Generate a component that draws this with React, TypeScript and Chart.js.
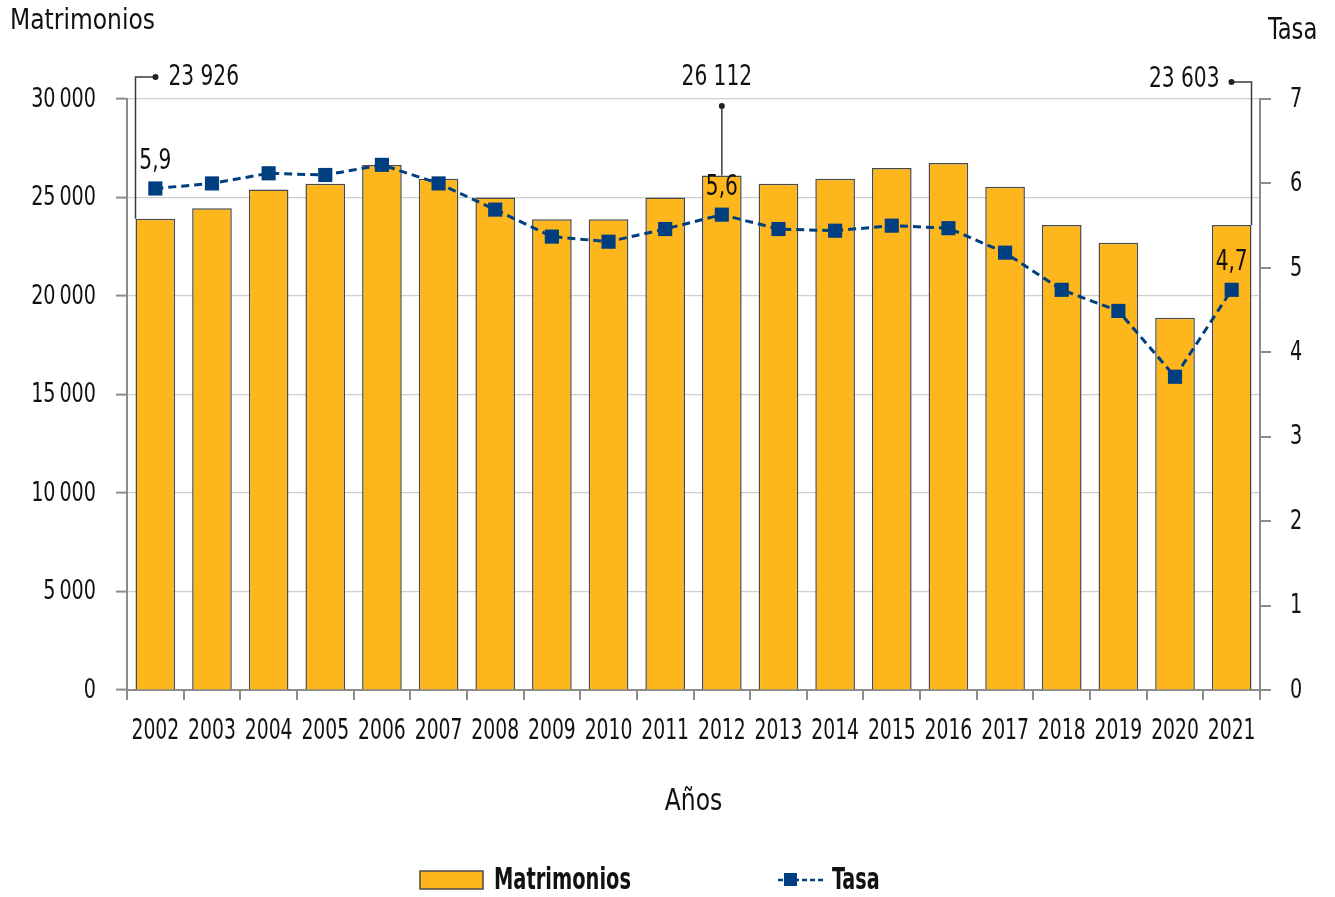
import React, { useEffect, useRef } from 'react';
import { Chart, registerables } from 'chart.js';

Chart.register(...registerables);

const years = ['2002', '2003', '2004', '2005', '2006', '2007', '2008', '2009', '2010', '2011', '2012', '2013', '2014', '2015', '2016', '2017', '2018', '2019', '2020', '2021'];
const matrimonios = [23926, 24450, 25400, 25700, 26650, 25950, 25000, 23900, 23900, 25000, 26112, 25700, 25950, 26500, 26750, 25550, 23600, 22700, 18900, 23603];
const tasa = [5.94, 6.0, 6.12, 6.1, 6.22, 6.0, 5.69, 5.37, 5.31, 5.46, 5.63, 5.46, 5.44, 5.5, 5.47, 5.18, 4.74, 4.49, 3.71, 4.74];
const calloutYears = ['2002', '2012', '2021'];
const rateLabelYears = ['2002', '2012', '2021'];
const leftAxis = { min: 0, max: 30000, step: 5000 };
const rightAxis = { min: 0, max: 7, step: 1 };

const FONT = "'DejaVu Sans Condensed', 'DejaVu Sans', sans-serif";
const BAR_COLOR = '#FDB71C';
const BAR_BORDER = '#4a4a4a';
const LINE_COLOR = '#003F7F';
const AXIS_COLOR = '#8c8c8c';
const GRID_COLOR = '#cfcfcf';
const TEXT = '#111111';

const fmtTick = (v: number) => String(Math.round(v)).replace(/\B(?=(\d{3})+(?!\d))/g, '\u2009');
const fmtCallout = (v: number) => String(Math.round(v)).replace(/\B(?=(\d{3})+(?!\d))/g, ' ');
const fmtRate = (v: number) => v.toFixed(1).replace('.', ',');

function drawText(
  ctx: CanvasRenderingContext2D,
  text: string,
  x: number,
  y: number,
  align: CanvasTextAlign,
  size: number,
  sx: number,
  bold = false
) {
  ctx.save();
  ctx.translate(x, y);
  ctx.scale(sx, 1);
  ctx.font = `${bold ? 'bold ' : ''}${size}px ${FONT}`;
  ctx.textAlign = align;
  ctx.textBaseline = 'middle';
  ctx.fillStyle = TEXT;
  ctx.fillText(text, 0, 0);
  ctx.restore();
}

const decorPlugin = {
  id: 'decor',
  afterDraw(chart: any) {
    const ctx = chart.ctx as CanvasRenderingContext2D;
    const area = chart.chartArea;
    const barMeta = chart.getDatasetMeta(0);
    const lineMeta = chart.getDatasetMeta(1);
    const xs = chart.scales.x;
    const yl = chart.scales.y;
    const yr = chart.scales.y1;
    ctx.save();

    // tick labels (condensed)
    xs.ticks.forEach((t: any, i: number) => {
      drawText(ctx, String(chart.data.labels[i]), xs.getPixelForTick(i), 731, 'center', 29, 0.72);
    });
    yl.ticks.forEach((t: any) => {
      drawText(ctx, fmtTick(t.value), 96, yl.getPixelForValue(t.value) + 1, 'right', 26, 0.82);
    });
    yr.ticks.forEach((t: any) => {
      drawText(ctx, String(t.value), 1290, yr.getPixelForValue(t.value) + 1, 'left', 26, 0.82);
    });

    // callouts for bar values
    ctx.strokeStyle = '#3a3a3a';
    ctx.fillStyle = '#222';
    ctx.lineWidth = 1.5;
    calloutYears.forEach((yrLabel, k) => {
      const i = years.indexOf(yrLabel);
      const bar = barMeta.data[i];
      const { x, y, width } = bar.getProps(['x', 'y', 'width'], true);
      const label = fmtCallout(matrimonios[i]);
      if (k === 0) {
        const lx = x - width / 2;
        const ty = area.top - 22;
        ctx.beginPath();
        ctx.moveTo(lx, y);
        ctx.lineTo(lx, ty);
        ctx.lineTo(lx + 20, ty);
        ctx.stroke();
        ctx.beginPath();
        ctx.arc(lx + 20, ty, 3, 0, Math.PI * 2);
        ctx.fill();
        drawText(ctx, label, lx + 33, area.top - 21, 'left', 28, 0.8);
      } else if (k === calloutYears.length - 1) {
        const lx = x + width / 2;
        const ty = area.top - 17;
        ctx.beginPath();
        ctx.moveTo(lx, y);
        ctx.lineTo(lx, ty);
        ctx.lineTo(lx - 20, ty);
        ctx.stroke();
        ctx.beginPath();
        ctx.arc(lx - 20, ty, 3, 0, Math.PI * 2);
        ctx.fill();
        drawText(ctx, label, lx - 32, area.top - 19, 'right', 28, 0.8);
      } else {
        const ty = area.top + 7;
        ctx.beginPath();
        ctx.moveTo(x, y);
        ctx.lineTo(x, ty);
        ctx.stroke();
        ctx.beginPath();
        ctx.arc(x, ty, 3, 0, Math.PI * 2);
        ctx.fill();
        drawText(ctx, label, x - 5, area.top - 21, 'center', 28, 0.8);
      }
    });

    // rate labels
    rateLabelYears.forEach((yrLabel) => {
      const i = years.indexOf(yrLabel);
      const pt = lineMeta.data[i];
      const { x, y } = pt.getProps(['x', 'y'], true);
      drawText(ctx, fmtRate(tasa[i]), x, y - 27, 'center', 28, 0.8);
    });

    // axis titles
    drawText(ctx, 'Matrimonios', 10, 22, 'left', 28, 0.93);
    drawText(ctx, 'Tasa', 1268, 31, 'left', 30, 0.84);
    drawText(ctx, 'Años', (area.left + area.right) / 2, 802, 'center', 30, 0.87);

    // legend
    const ly = 880;
    ctx.fillStyle = BAR_COLOR;
    ctx.fillRect(420, 871, 63, 18);
    ctx.strokeStyle = BAR_BORDER;
    ctx.lineWidth = 1.5;
    ctx.strokeRect(420, 871, 63, 18);
    drawText(ctx, chart.data.datasets[0].label, 494, ly + 1, 'left', 30, 0.72, true);

    ctx.strokeStyle = LINE_COLOR;
    ctx.lineWidth = 2.5;
    ctx.setLineDash([5, 3]);
    ctx.beginPath();
    ctx.moveTo(778, ly);
    ctx.lineTo(826, ly);
    ctx.stroke();
    ctx.setLineDash([]);
    ctx.fillStyle = LINE_COLOR;
    ctx.fillRect(784, ly - 7, 13, 13);
    drawText(ctx, chart.data.datasets[1].label, 832, ly + 1, 'left', 30, 0.71, true);

    ctx.restore();
  },
};

export default function App() {
  const ref = useRef<HTMLCanvasElement | null>(null);
  useEffect(() => {
    if (!ref.current) return;
    const chart = new Chart(ref.current, {
      type: 'bar',
      data: {
        labels: years,
        datasets: [
          {
            type: 'bar',
            label: 'Matrimonios',
            data: matrimonios,
            backgroundColor: BAR_COLOR,
            borderColor: BAR_BORDER,
            borderWidth: 1.5,
            barPercentage: 0.7,
            categoryPercentage: 1,
            yAxisID: 'y',
            order: 2,
          },
          {
            type: 'line',
            label: 'Tasa',
            data: tasa,
            borderColor: LINE_COLOR,
            backgroundColor: LINE_COLOR,
            borderWidth: 3,
            borderDash: [8, 5],
            pointStyle: 'rect',
            pointRadius: 10,
            pointBorderWidth: 0,
            pointBackgroundColor: LINE_COLOR,
            tension: 0,
            yAxisID: 'y1',
            order: 1,
          },
        ],
      },
      options: {
        responsive: false,
        animation: false,
        devicePixelRatio: 1,
        layout: { padding: { top: 99, left: 0, right: 0, bottom: 0 } },
        plugins: {
          legend: { display: false },
          tooltip: { enabled: false },
          title: { display: false },
        },
        scales: {
          x: {
            offset: true,
            grid: {
              offset: true,
              drawOnChartArea: false,
              drawTicks: true,
              tickLength: 10,
              color: AXIS_COLOR,
              lineWidth: 2,
            },
            border: { color: AXIS_COLOR, width: 2 },
            ticks: { display: false, autoSkip: false, maxRotation: 0 },
            afterFit: (s: any) => {
              s.height = 207;
            },
          },
          y: {
            position: 'left',
            min: leftAxis.min,
            max: leftAxis.max,
            ticks: { display: false, stepSize: leftAxis.step },
            grid: {
              color: GRID_COLOR,
              lineWidth: 1.2,
              tickColor: AXIS_COLOR,
              tickLength: 11,
              tickWidth: 2,
            },
            border: { color: AXIS_COLOR, width: 2 },
            afterFit: (s: any) => {
              s.width = 127;
            },
          },
          y1: {
            position: 'right',
            min: rightAxis.min,
            max: rightAxis.max,
            ticks: { display: false, stepSize: rightAxis.step },
            grid: {
              drawOnChartArea: false,
              color: AXIS_COLOR,
              tickLength: 11,
              lineWidth: 2,
            },
            border: { color: AXIS_COLOR, width: 2 },
            afterFit: (s: any) => {
              s.width = 75;
            },
          },
        },
      },
      plugins: [decorPlugin],
    } as any);
    return () => chart.destroy();
  }, []);
  return (
    <div style={{ position: 'fixed', left: 0, top: 0, width: 1335, height: 897, background: '#fff' }}>
      <canvas ref={ref} width={1335} height={897} style={{ display: 'block' }} />
    </div>
  );
}
